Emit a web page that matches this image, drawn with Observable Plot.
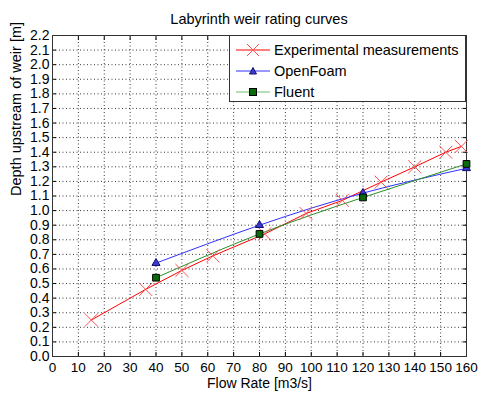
<!DOCTYPE html>
<html>
<head>
<meta charset="utf-8">
<script src="https://cdn.jsdelivr.net/npm/d3@7"></script>
<script src="https://cdn.jsdelivr.net/npm/@observablehq/plot@0.6"></script>
<style>
  html, body { margin: 0; padding: 0; background: #fff; }
  #wrap { position: relative; width: 479px; height: 394px; font-family: "Liberation Sans", Arial, sans-serif; }
  #title { position: absolute; left: 52px; width: 414px; top: 11px; text-align: center; font-size: 14.5px; color: #000; }
  #legend { position: absolute; left: 229px; top: 35px; width: 237px; height: 67px; border: 1px solid #333; background: #fff; box-sizing: border-box; }
  #legend .row { position: absolute; left: 6px; height: 20px; display: flex; align-items: center; font-size: 14.5px; }
  #legend svg { margin-right: 3px; }
</style>
</head>
<body>
<div id="wrap">
  <div id="chart"></div>
  <div id="title">Labyrinth weir rating curves</div>
  <div id="legend"></div>
</div>
<script>
// Data
const expFlow = [15, 36, 50, 62, 82, 98, 112, 127, 140, 152, 158];
const expDepth = [0.25, 0.46, 0.59, 0.69, 0.84, 0.98, 1.07, 1.195, 1.30, 1.40, 1.44];
const ofFlow = [40, 80, 120, 160];
const ofDepth = [0.64, 0.90, 1.12, 1.29];
const flFlow = [40, 80, 120, 160];
const flDepth = [0.54, 0.84, 1.09, 1.32];
const xTicks = d3.range(0, 161, 10);
const yTicks = d3.range(0, 23).map(i => i / 10);
const seriesNames = ["Experimental measurements", "OpenFoam", "Fluent"];

const exp = expFlow.map((q, i) => ({q, h: expDepth[i]}));
const of = ofFlow.map((q, i) => ({q, h: ofDepth[i]}));
const fl = flFlow.map((q, i) => ({q, h: flDepth[i]}));

const font = "Liberation Sans, Arial, sans-serif";
const plot = Plot.plot({
  width: 479,
  height: 394,
  marginLeft: 52,
  marginRight: 13,
  marginTop: 35,
  marginBottom: 38,
  style: {fontFamily: font, fontSize: "14px", color: "#000", background: "#fff"},
  x: {domain: [0, 160]},
  y: {domain: [0, 2.2]},
  marks: [
    Plot.gridX(xTicks, {stroke: "#222", strokeOpacity: 0.9, strokeDasharray: "1,2.5"}),
    Plot.gridY(yTicks, {stroke: "#222", strokeOpacity: 0.9, strokeDasharray: "1,2.5"}),
    Plot.axisX(xTicks, {anchor: "bottom", tickSize: -4, tickPadding: 10, label: null, fontSize: 13.5, tickFormat: d => String(d)}),
    Plot.axisX(xTicks, {anchor: "top", tickSize: -4, label: null, tickFormat: () => ""}),
    Plot.axisY(yTicks, {anchor: "left", tickSize: -4, tickPadding: 7, label: null, fontSize: 14, tickFormat: d3.format(".1f")}),
    Plot.axisY(yTicks, {anchor: "right", tickSize: -4, label: null, tickFormat: () => ""}),
    Plot.frame({stroke: "#333"}),
    Plot.line(exp, {x: "q", y: "h", stroke: "#ff0000", strokeWidth: 1}),
    Plot.line(of, {x: "q", y: "h", stroke: "#3030ff", strokeWidth: 1, curve: "natural"}),
    Plot.line(fl, {x: "q", y: "h", stroke: "#2a8f2a", strokeWidth: 1, curve: "natural"}),
    Plot.dot(exp, {x: "q", y: "h", symbol: "times", r: 6, stroke: "#ff5050", strokeWidth: 1}),
    Plot.dot(of, {x: "q", y: "h", symbol: "triangle", r: 3, fill: "#3a3ad0", stroke: "#10106a", strokeWidth: 1}),
    Plot.dot(fl, {x: "q", y: "h", symbol: "square", r: 3.8, fill: "#0a6a0a", stroke: "#000", strokeWidth: 1}),
    Plot.text(["Flow Rate [m3/s]"], {frameAnchor: "bottom", dy: 31.5, fontSize: 14, fill: "#000"}),
    Plot.text(["Depth upstream of weir [m]"], {frameAnchor: "left", dx: -36, rotate: -90, fontSize: 14.5, fill: "#000"})
  ]
});
document.getElementById("chart").appendChild(plot);

// Legend
const legend = document.getElementById("legend");
const swatches = [
  {line: "#ff0000", draw: () => `<path d="M11,3L23,15M11,15L23,3" stroke="#ff5050" stroke-width="1"/>`},
  {line: "#3030ff", draw: () => `<path d="M17,5.5L20.5,12L13.5,12Z" fill="#3a3ad0" stroke="#10106a"/>`},
  {line: "#6cbf6c", draw: () => `<rect x="13.5" y="5.5" width="7" height="7" fill="#0a6a0a" stroke="#000"/>`}
];
const tops = [4, 25, 46];
seriesNames.forEach((name, i) => {
  const row = document.createElement("div");
  row.className = "row";
  row.style.top = tops[i] + "px";
  row.innerHTML = `<svg width="35" height="18"><line x1="0" x2="34" y1="9" y2="9" stroke="${swatches[i].line}" stroke-width="1"/>${swatches[i].draw()}</svg><span>${name}</span>`;
  legend.appendChild(row);
});
</script>
</body>
</html>
